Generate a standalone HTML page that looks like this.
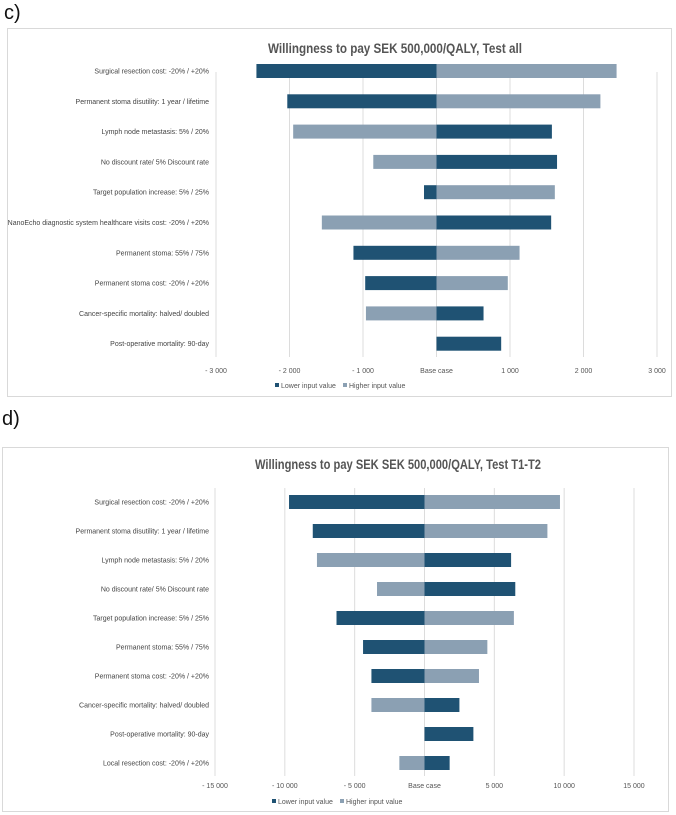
<!DOCTYPE html>
<html><head><meta charset="utf-8">
<style>
body{margin:0;background:#fff;width:676px;height:815px;overflow:hidden;font-family:"Liberation Sans",sans-serif;}
.lbl{position:absolute;font-size:20px;color:#111;font-family:"Liberation Sans",sans-serif;}
svg{position:absolute;left:0;top:0;}
</style></head><body>
<div class="lbl" style="left:4px;top:2px;">c)</div>
<div class="lbl" style="left:2px;top:408px;">d)</div>
<svg id="chart" width="676" height="815"></svg>
<script>
// Chart C data
const cCats=["Surgical resection cost: -20% / +20%","Permanent stoma disutility: 1 year / lifetime","Lymph node metastasis: 5% / 20%","No discount rate/ 5% Discount rate","Target population increase: 5% / 25%","NanoEcho diagnostic system healthcare visits cost: -20% / +20%","Permanent stoma: 55% / 75%","Permanent stoma cost: -20% / +20%","Cancer-specific mortality: halved/  doubled","Post-operative mortality: 90-day"];
const cLower=[-2450,-2030,1570,1640,-170,1560,-1130,-970,640,880];
const cHigher=[2450,2230,-1950,-860,1610,-1560,1130,970,-960,0];
const cTicks=[-3000,-2000,-1000,0,1000,2000,3000];
const cTickLabels=["- 3 000","- 2 000","- 1 000","Base case","1 000","2 000","3 000"];
// Chart D data
const dCats=["Surgical resection cost: -20% / +20%","Permanent stoma disutility: 1 year / lifetime","Lymph node metastasis: 5% / 20%","No discount rate/ 5% Discount rate","Target population increase: 5% / 25%","Permanent stoma: 55% / 75%","Permanent stoma cost: -20% / +20%","Cancer-specific mortality: halved/  doubled","Post-operative mortality: 90-day","Local  resection cost: -20% / +20%"];
const dLower=[-9700,-8000,6200,6500,-6300,-4400,-3800,2500,3500,1800];
const dHigher=[9700,8800,-7700,-3400,6400,4500,3900,-3800,0,-1800];
const dTicks=[-15000,-10000,-5000,0,5000,10000,15000];
const dTickLabels=["- 15 000","- 10 000","- 5 000","Base case","5 000","10 000","15 000"];

const NS="http://www.w3.org/2000/svg";
const svg=document.getElementById('chart');
function mk(tag,attrs,parent){const e=document.createElementNS(NS,tag);for(const k in attrs)e.setAttribute(k,attrs[k]);(parent||svg).appendChild(e);return e;}
const DARK="#1f5273",LIGHT="#8ba0b3";
function draw(o){
  const g=mk('g',{});
  
  
  const box=mk('rect',{x:o.box[0],y:o.box[1],width:o.box[2],height:o.box[3],fill:'#fff',stroke:'#d9d9d9','stroke-width':1},g);
  
  
  const t=mk('text',{x:o.titleX,y:o.titleY,'text-anchor':'middle','font-size':14,'font-weight':'bold',fill:'#555',textLength:o.titleW,lengthAdjust:'spacingAndGlyphs'},g);
  t.textContent=o.title;
  
  
  const xs=v=>o.x0+(v-o.ticks[0])/(o.ticks[o.ticks.length-1]-o.ticks[0])*(o.x1-o.x0);
  o.ticks.forEach((v,i)=>{
    const l=mk('line',{x1:xs(v),x2:xs(v),y1:o.gTop,y2:o.gBot,stroke:'#dcdcdc','stroke-width':1},g);
    
    
    const tl=mk('text',{x:xs(v),y:o.tickY,'text-anchor':'middle','font-size':7,fill:'#555'},g);
    tl.textContent=o.tickLabels[i];
    
    
  });
  const ys=i=>o.row0+i*o.rowStep;
  const bh=o.bh;
  o.cats.forEach((c,i)=>{
    const y=ys(i);
    const lt=mk('text',{x:o.labelX,y:y+2.5,'text-anchor':'end','font-size':7,fill:'#444'},g);
    lt.textContent=c;
    
    
    [[o.higher[i],LIGHT,'bar-higher'],[o.lower[i],DARK,'bar-lower']].forEach(([v,col,nm])=>{
      if(v===0)return;
      const a=Math.min(xs(0),xs(v)),w=Math.abs(xs(v)-xs(0));
      const r=mk('rect',{x:a,y:y-bh/2,width:w,height:bh,fill:col},g);
      
      
    });
  });
  [[DARK,'Lower input value','legend-lower'],[LIGHT,'Higher input value','legend-higher']].forEach(([col,txt,nm],k)=>{
    const lx=o.legX+k*68;
    const s=mk('rect',{x:lx,y:o.legY-5,width:4,height:4,fill:col},g);
    
    
    const lt=mk('text',{x:lx+6,y:o.legY,'font-size':7,fill:'#555'},g);
    lt.textContent=txt;
    
    
  });
}
draw({name:'chart-c',box:[7.5,28.5,664,368],title:'Willingness to pay SEK 500,000/QALY, Test all',titleX:395,titleY:53,titleW:254,
  ticks:cTicks,tickLabels:cTickLabels,x0:216,x1:657,gTop:72,gBot:357,tickY:373,
  cats:cCats,lower:cLower,higher:cHigher,row0:71,rowStep:30.3,bh:14,labelX:209,legX:275,legY:388});
draw({name:'chart-d',box:[2.5,447.5,666,364],title:'Willingness to pay SEK SEK 500,000/QALY, Test T1-T2',titleX:398,titleY:469,titleW:286,
  ticks:dTicks,tickLabels:dTickLabels,x0:215,x1:634,gTop:488,gBot:776,tickY:788,
  cats:dCats,lower:dLower,higher:dHigher,row0:502,rowStep:29,bh:14,labelX:209,legX:272,legY:804});
</script>
</body></html>
